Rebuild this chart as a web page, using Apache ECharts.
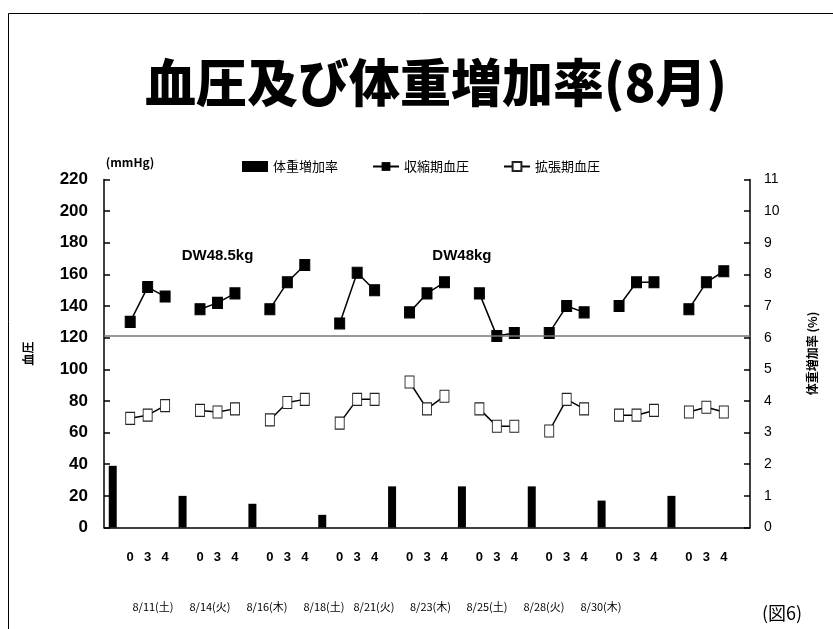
<!DOCTYPE html>
<html>
<head>
<meta charset="utf-8">
<script src="https://cdn.jsdelivr.net/npm/echarts@6/dist/echarts.min.js"></script>
<style>
html,body{margin:0;padding:0;background:#fff;}
#c{width:833px;height:629px;}
</style>
</head>
<body>
<div id="c"></div>
<script>
// ---- data ----
const titleText = '血圧及び体重増加率(8月)';
const timeLabels = ['0', '3', '4'];
const dates = ['8/11(土)', '8/14(火)', '8/16(木)', '8/18(土)', '8/21(火)', '8/23(木)', '8/25(土)', '8/28(火)', '8/30(木)'];
const weightGain = [1.95, 1.0, 0.75, 0.4, 1.3, 1.3, 1.3, 0.85, 1.0];
const systolic = [[130,152,146],[138,142,148],[138,155,166],[129,161,150],[136,148,155],[148,121,123],[123,140,136],[140,155,155],[138,155,162]];
const diastolic = [[69,71,77],[74,73,75],[68,79,81],[66,81,81],[92,75,83],[75,64,64],[61,81,75],[71,71,74],[73,76,73]];
const leftTicks = {min: 0, max: 220, interval: 20};
const rightTicks = {min: 0, max: 11, interval: 1};
const refLine = 121;
const notes = [{text: 'DW48.5kg', cat: 'g1_1'}, {text: 'DW48kg', cat: 'b5'}];

// ---- build category layout: per group a bar slot then 0,3,4; plus trailing slot ----
const cats = [], catLabel = {};
const barData = [], sysData = [], diaData = [];
dates.forEach((d, g) => {
  const k = 'b' + g; cats.push(k); catLabel[k] = '';
  barData.push(weightGain[g]); sysData.push(null); diaData.push(null);
  timeLabels.forEach((t, j) => {
    const kk = 'g' + g + '_' + j; cats.push(kk); catLabel[kk] = t;
    barData.push(null); sysData.push(systolic[g][j]); diaData.push(diastolic[g][j]);
  });
});
cats.push('end'); catLabel['end'] = '';
barData.push(null); sysData.push(null); diaData.push(null);

const chart = echarts.init(document.getElementById('c'), null, {renderer: 'canvas'});
const FONT = '"Liberation Sans", Arial, "Noto Sans CJK JP", sans-serif';
const CJK = '"Noto Sans CJK JP", sans-serif';

const dateX = [153, 210, 267, 324, 374, 430.5, 487, 544, 601];

const graphics = [
  {type: 'rect', left: 6, top: 11, shape: {width: 900, height: 700}, style: {fill: 'none', stroke: '#000', lineWidth: 1}, z: -1, silent: true},
  {type: 'text', x: 436, y: 83, style: {text: titleText, fill: '#000', font: '900 51px ' + CJK, textAlign: 'center', textVerticalAlign: 'middle'}},
  {type: 'text', x: 130, y: 162, style: {text: '(mmHg)', fill: '#000', font: 'bold 12px ' + CJK, textAlign: 'center', textVerticalAlign: 'middle'}},
  {type: 'text', x: 782, y: 613, style: {text: '(図6)', fill: '#000', font: '18px ' + CJK, textAlign: 'center', textVerticalAlign: 'middle'}}
];
dates.forEach((d, i) => {
  graphics.push({type: 'text', x: dateX[i], y: 607, style: {text: d, fill: '#000', font: '11px ' + CJK, textAlign: 'center', textVerticalAlign: 'middle'}});
});

chart.setOption({
  animation: false,
  backgroundColor: '#fff',
  grid: {left: 104, right: 83, top: 179.5, bottom: 101.5, containLabel: false},
  legend: {
    left: 237, top: 155,
    itemWidth: 26, itemHeight: 11, itemGap: 34,
    textStyle: {fontFamily: CJK, fontSize: 13, color: '#000'},
    data: [
      {name: '体重増加率', icon: 'rect', itemStyle: {color: '#000'}},
      {name: '収縮期血圧'},
      {name: '拡張期血圧'}
    ]
  },
  xAxis: {
    type: 'category', data: cats, boundaryGap: true,
    axisLine: {lineStyle: {color: '#000', width: 1.5}},
    axisTick: {show: false},
    axisLabel: {interval: 0, margin: 23, formatter: v => catLabel[v], color: '#000', fontFamily: FONT, fontWeight: 'bold', fontSize: 13}
  },
  yAxis: [
    {
      type: 'value', min: leftTicks.min, max: leftTicks.max, interval: leftTicks.interval,
      name: '血圧', nameLocation: 'middle', nameGap: 70, nameRotate: 90,
      nameTextStyle: {fontFamily: CJK, fontWeight: 'bold', fontSize: 12, color: '#000'},
      axisLine: {show: true, lineStyle: {color: '#000', width: 1.5}},
      axisTick: {show: true, inside: true, length: 6, lineStyle: {color: '#000', width: 1.5}},
      splitLine: {show: false},
      axisLabel: {margin: 16, color: '#000', fontFamily: FONT, fontWeight: 'bold', fontSize: 17}
    },
    {
      type: 'value', min: rightTicks.min, max: rightTicks.max, interval: rightTicks.interval, position: 'right',
      name: '体重増加率 (%)', nameLocation: 'middle', nameGap: 56, nameRotate: 90,
      nameTextStyle: {fontFamily: CJK, fontWeight: 'bold', fontSize: 12, color: '#000'},
      axisLine: {show: true, lineStyle: {color: '#000', width: 1.5}},
      axisTick: {show: true, inside: true, length: 6, lineStyle: {color: '#000', width: 1.5}},
      splitLine: {show: false},
      axisLabel: {margin: 14, color: '#000', fontFamily: FONT, fontSize: 14}
    }
  ],
  series: [
    {
      name: '体重増加率', type: 'bar', yAxisIndex: 1, data: barData, barWidth: 8,
      itemStyle: {color: '#000'}
    },
    {
      name: '収縮期血圧', type: 'line', data: sysData, connectNulls: false,
      symbol: 'rect', symbolSize: [10, 11],
      itemStyle: {color: '#000', borderColor: '#000'},
      lineStyle: {color: '#000', width: 1.5},
      markLine: {
        silent: true, symbol: 'none', label: {show: false},
        lineStyle: {color: '#777', width: 1.5, type: 'solid'},
        data: [{yAxis: refLine}]
      },
      markPoint: {
        symbol: 'circle', symbolSize: 0, silent: true,
        label: {show: true, color: '#000', fontFamily: FONT, fontWeight: 'bold', fontSize: 15},
        data: notes.map(n => ({coord: [n.cat, 172], value: n.text, label: {formatter: n.text}}))
      }
    },
    {
      name: '拡張期血圧', type: 'line', data: diaData, connectNulls: false,
      symbol: 'rect', symbolSize: [9, 12],
      itemStyle: {color: '#fff', borderColor: '#222', borderWidth: 1},
      lineStyle: {color: '#000', width: 1.5}
    }
  ],
  graphic: graphics
});
</script>
</body>
</html>
